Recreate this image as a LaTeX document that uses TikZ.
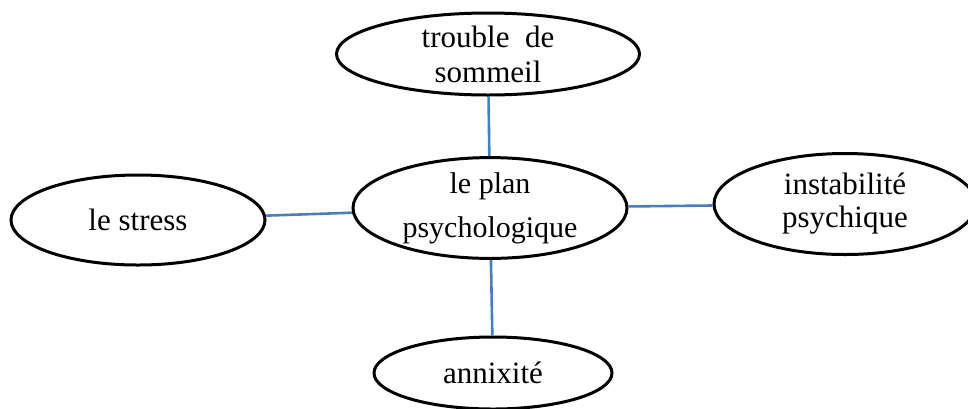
\documentclass[tikz,border=0pt]{standalone}
\usepackage{fontspec}
\setmainfont{Liberation Serif}
\usetikzlibrary{shapes.geometric}
\definecolor{linkblue}{HTML}{4A7EBB}
\begin{document}
\begin{tikzpicture}[x=1pt,y=-1pt,
  bubble/.style={ellipse,draw=black,line width=3pt,inner sep=0pt,align=center,
    font=\fontsize{31}{35}\selectfont},
  link/.style={draw=linkblue,line width=2.6pt}]
\useasboundingbox (0,0) rectangle (968,408);
\node[bubble,minimum width=303pt,minimum height=82pt] (top) at (488,54) {trouble~ de\\sommeil};
\node[bubble,minimum width=274pt,minimum height=99pt,font=\fontsize{30}{44}\selectfont] (mid) at (490,208) {\raisebox{0pt}{le plan}\\psychologique};
\node[bubble,minimum width=254pt,minimum height=90pt] (left) at (138,220) {le stress};
\node[bubble,minimum width=262pt,minimum height=101pt,font=\fontsize{31}{33}\selectfont] (right) at (845,204) {instabilité\\psychique};
\node[bubble,minimum width=238pt,minimum height=72pt] (bot) at (493,373) {annixité};
\draw[link] (top) -- (mid);
\draw[link] (left) -- (mid);
\draw[link] (mid) -- (right);
\draw[link] (mid) -- (bot);
\end{tikzpicture}
\end{document}
